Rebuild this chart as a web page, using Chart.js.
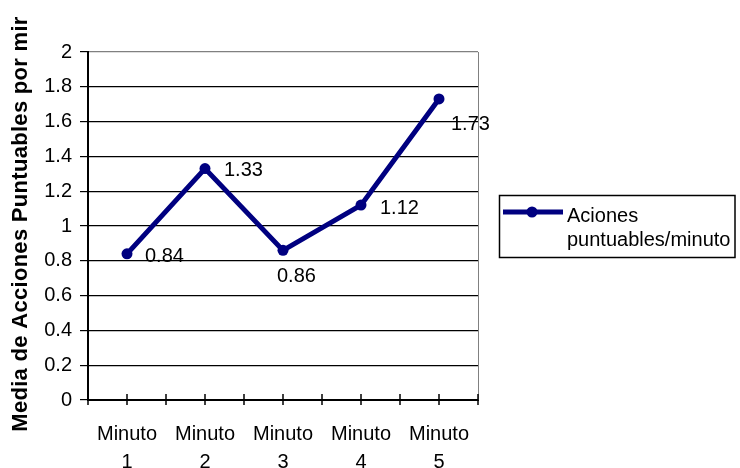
<!DOCTYPE html>
<html>
<head>
<meta charset="utf-8">
<script src="https://cdn.jsdelivr.net/npm/chart.js@4.4.0/dist/chart.umd.min.js"></script>
<style>
html, body { margin: 0; padding: 0; background: #fff; }
#wrap { width: 740px; height: 468px; }
</style>
</head>
<body>
<div id="wrap"><canvas id="chart"></canvas></div>
<script>
const categories = ['Minuto 1', 'Minuto 2', 'Minuto 3', 'Minuto 4', 'Minuto 5'];
const values = [0.84, 1.33, 0.86, 1.12, 1.73];
const seriesLabel = 'Aciones puntuables/minuto';
const yTitle = 'Media de Acciones Puntuables por mir';

// where each value label sits: [dx to text left, dy to text middle]
const labelOffsets = [[18, 3], [19, 2], [-6, 26], [19, 3], [12, 26]];

const FONT = "'Liberation Sans', Arial, sans-serif";
const NAVY = '#000080';

const extras = {
    id: 'extras',
    afterDraw(chart) {
        const ctx = chart.ctx;
        const area = chart.chartArea;
        const xs = chart.scales.x;
        ctx.save();

        // right border of plot area
        ctx.strokeStyle = '#808080';
        ctx.lineWidth = 1;
        ctx.beginPath();
        ctx.moveTo(area.right + 0.5, area.top);
        ctx.lineTo(area.right + 0.5, area.bottom);
        ctx.stroke();

        // tick marks crossing the x axis, at centers and boundaries
        const half = (xs.getPixelForValue(1) - xs.getPixelForValue(0)) / 2;
        ctx.strokeStyle = '#000';
        ctx.lineWidth = 1.5;
        ctx.beginPath();
        for (let i = 0; i < categories.length; i++) {
            const c = xs.getPixelForValue(i);
            [c - half, c, c + half].forEach(px => {
                ctx.moveTo(px, area.bottom - 6);
                ctx.lineTo(px, area.bottom + 5);
            });
        }
        ctx.stroke();

        // value labels
        const meta = chart.getDatasetMeta(0);
        ctx.fillStyle = '#000';
        ctx.font = '20px ' + FONT;
        ctx.textAlign = 'left';
        ctx.textBaseline = 'middle';
        meta.data.forEach((pt, i) => {
            const [dx, dy] = labelOffsets[i];
            ctx.fillText(values[i].toFixed(2), pt.x + dx, pt.y + dy);
        });

        // y axis title
        ctx.save();
        ctx.translate(21, 224);
        ctx.rotate(-Math.PI / 2);
        ctx.font = 'bold 22px ' + FONT;
        ctx.letterSpacing = '0.3px';
        ctx.textAlign = 'center';
        ctx.fillText(yTitle, 0, 0);
        ctx.restore();

        // legend
        ctx.strokeStyle = '#000';
        ctx.lineWidth = 1.5;
        ctx.strokeRect(499.5, 195.5, 235.5, 62);
        ctx.strokeStyle = NAVY;
        ctx.lineWidth = 5;
        ctx.beginPath();
        ctx.moveTo(503, 212);
        ctx.lineTo(563, 212);
        ctx.stroke();
        ctx.fillStyle = NAVY;
        ctx.beginPath();
        ctx.arc(532, 212, 5.5, 0, Math.PI * 2);
        ctx.fill();
        const words = chart.data.datasets[0].label.split(' ');
        ctx.fillStyle = '#000';
        ctx.font = '20px ' + FONT;
        ctx.fillText(words[0], 567, 216);
        ctx.fillText(words.slice(1).join(' '), 567, 240);

        ctx.restore();
    }
};

new Chart(document.getElementById('chart'), {
    type: 'line',
    data: {
        labels: categories,
        datasets: [{
            label: seriesLabel,
            data: values,
            borderColor: NAVY,
            backgroundColor: NAVY,
            borderWidth: 5,
            pointRadius: 5.5,
            pointBackgroundColor: NAVY,
            pointBorderWidth: 0,
            tension: 0
        }]
    },
    options: {
        responsive: true,
        maintainAspectRatio: false,
        animation: false,
        events: [],
        layout: { padding: { top: 52, right: 262, left: 0, bottom: 0 } },
        plugins: {
            legend: { display: false },
            tooltip: { enabled: false }
        },
        scales: {
            x: {
                offset: true,
                afterFit: s => { s.height = 68; },
                grid: { display: false, drawTicks: false },
                border: { color: '#000', width: 2 },
                ticks: {
                    color: '#000',
                    padding: 20,
                    maxRotation: 0,
                    autoSkip: false,
                    font: { family: FONT, size: 20, lineHeight: 1.4 },
                    callback: function (v) { return this.getLabelForValue(v).split(' '); }
                }
            },
            y: {
                min: 0,
                max: 2,
                afterFit: s => { s.width = 88; },
                grid: {
                    color: c => c.tick && c.tick.value === 2 ? '#808080' : '#000',
                    lineWidth: 1.2,
                    tickLength: 8,
                    tickColor: '#000'
                },
                border: { color: '#000', width: 2 },
                ticks: {
                    stepSize: 0.2,
                    color: '#000',
                    padding: 8,
                    font: { family: FONT, size: 20 },
                    callback: v => String(Number(v.toFixed(1)))
                }
            }
        }
    },
    plugins: [extras]
});
</script>
</body>
</html>
